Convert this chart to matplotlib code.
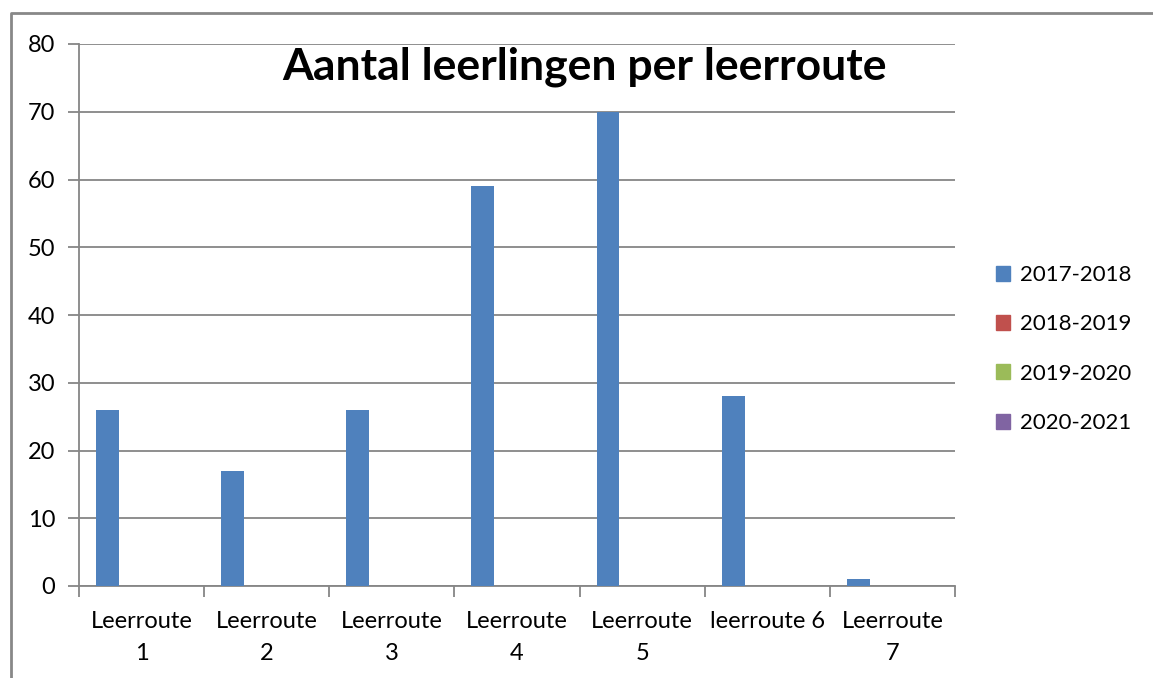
import matplotlib
matplotlib.use("Agg")
import matplotlib.pyplot as plt
from matplotlib.lines import Line2D
import numpy as np

categories = ["Leerroute\n1", "Leerroute\n2", "Leerroute\n3", "Leerroute\n4",
              "Leerroute\n5", "leerroute 6", "Leerroute\n7"]
series_names = ["2017-2018", "2018-2019", "2019-2020", "2020-2021"]
values_2017 = [26, 17, 26, 59, 70, 28, 1]
values_2018 = [0, 0, 0, 0, 0, 0, 0]
values_2019 = [0, 0, 0, 0, 0, 0, 0]
values_2020 = [0, 0, 0, 0, 0, 0, 0]
series_values = [values_2017, values_2018, values_2019, values_2020]
colors = ["#4F81BD", "#C0504D", "#9BBB59", "#8064A2"]
yticks = [0, 10, 20, 30, 40, 50, 60, 70, 80]

plt.rcParams['font.family'] = ['Lato', 'DejaVu Sans']

W, H = 1153, 678
fig = plt.figure(figsize=(W / 100, H / 100), dpi=100)
ax = fig.add_axes([79 / W, (H - 586) / H, (955 - 79) / W, (586 - 44) / H])

n = len(categories)
nser = len(series_values)
w = 1 / (nser + 1.5)
x = np.arange(n)
for j, (vals, col, name) in enumerate(zip(series_values, colors, series_names)):
    ax.bar(x + 0.75 * w + j * w, vals, width=w, align='edge', color=col,
           label=name, zorder=3)

ax.set_xlim(0, n)
ax.set_ylim(0, 80)
ax.set_yticks(yticks)
ax.set_yticklabels([str(t) for t in yticks], fontsize=17)
ax.yaxis.grid(True, color="#868686", lw=1.3, zorder=0)
ax.set_axisbelow(True)

ax.set_xticks(x + 0.5)
ax.set_xticklabels(categories, fontsize=17, linespacing=1.65)
ax.set_xticks(np.arange(n + 1), minor=True)
ax.tick_params(axis='x', which='major', length=0, pad=18)
ax.tick_params(axis='x', which='minor', length=8, color="#868686", width=1.3)
ax.tick_params(axis='y', length=8, color="#868686", width=1.3, pad=9)

for s in ['top', 'right']:
    ax.spines[s].set_visible(False)
for s in ['left', 'bottom']:
    ax.spines[s].set_color("#868686")
    ax.spines[s].set_linewidth(1.3)

fig.text(584 / W, 1 - 67 / H, "Aantal leerlingen per leerroute",
         fontsize=32, fontweight='bold', ha='center', va='center')

handles = [plt.Rectangle((0, 0), 1, 1, color=c) for c in colors]
fig.legend(handles, series_names, loc='center left',
           bbox_to_anchor=(976 / W, 1 - 349 / H), frameon=False,
           fontsize=16, handlelength=0.65, handleheight=0.65,
           handletextpad=0.45, labelspacing=1.32)

# outer frame
fig.add_artist(Line2D([11 / W, 11 / W, 1.0], [0.0, 1 - 13 / H, 1 - 13 / H],
                      transform=fig.transFigure, color="#888888", lw=2))

fig.savefig("out.png", dpi=100)
